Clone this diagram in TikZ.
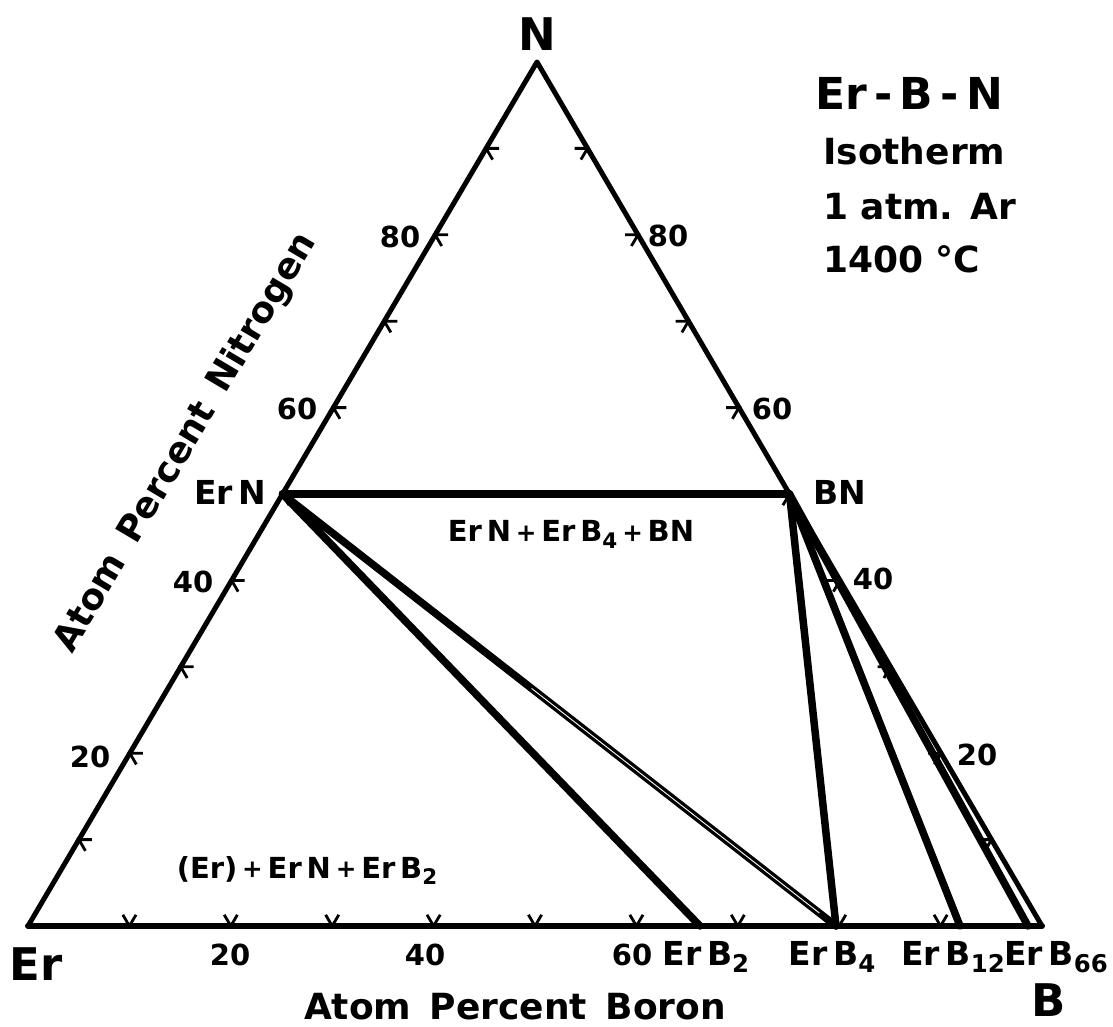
\documentclass[tikz,border=0pt]{standalone}
\usepackage{fontspec}
\setmainfont{DejaVu Sans}
\usetikzlibrary{calc}
\newcommand{\lowr}[1]{\raisebox{-0.42ex}{\scalebox{0.74}{#1}}}
\newcommand{\smplus}{\,\raisebox{0.02ex}{\scalebox{0.85}{+}}\,}
\begin{document}
\begin{tikzpicture}[x=1pt,y=1pt,
  edge/.style={line width=5pt, line join=round, line cap=round},
  baseedge/.style={line width=6pt, line cap=round},
  tie/.style={line width=7.5pt, line cap=round},
  hairline/.style={white, line width=0.9pt},
  tickmark/.style={line width=2.8pt, line join=miter},
  corner/.style={font=\bfseries\fontsize{45}{45}\selectfont, inner sep=0pt, anchor=base},
  num/.style={font=\bfseries\fontsize{29}{29}\selectfont, inner sep=0pt, anchor=base},
  phase/.style={font=\bfseries\fontsize{33}{33}\selectfont, inner sep=0pt, anchor=base},
  field/.style={font=\bfseries\fontsize{29}{29}\selectfont, inner sep=0pt, anchor=base},
  axis/.style={font=\bfseries\fontsize{36}{36}\selectfont, inner sep=0pt},
  info/.style={font=\bfseries\fontsize{36}{36}\selectfont, inner sep=0pt, anchor=base west},
]
\useasboundingbox (0,0) rectangle (1113,1026);

% vertices
\coordinate (Er) at (28,100);
\coordinate (B) at (1042,100);
\coordinate (N) at (537,964);
\coordinate (ErN) at ($(Er)!0.5!(N)$);
\coordinate (BN) at ($(B)!0.5!(N)$);
\coordinate (ErB2) at (700,100);
\coordinate (ErB4) at (836,100);
\coordinate (ErB12) at (960,100);
\coordinate (ErB66) at (1028,100);

% triangle
\draw[edge] (Er) -- (N) -- (B);
\draw[baseedge] (Er) -- (B);

% ticks
\foreach \k in {1,...,9}{
  \coordinate (tl\k) at ($(Er)!\k/10!(N)$);
  \coordinate (tr\k) at ($(B)!\k/10!(N)$);
  \coordinate (tb\k) at ($(Er)!\k/10!(B)$);
  \draw[tickmark] ($(tl\k)+(13,0)$) -- (tl\k) -- ($(tl\k)+(6.56,-11.22)$);
  \draw[tickmark] ($(tr\k)+(-13,0)$) -- (tr\k) -- ($(tr\k)+(-6.6,-11.2)$);
  \draw[tickmark] ($(tb\k)+(6.6,11.2)$) -- (tb\k) -- ($(tb\k)+(-6.56,11.22)$);
}

% tie lines
\draw[tie] (ErN) -- (BN);
\draw[tie] (ErN) -- (ErB2);
\draw[tie] (ErN) -- (ErB4);
\draw[hairline] ($(ErN)!0.45!(ErB4)$) -- ($(ErN)!0.97!(ErB4)$);
\draw[tie] (BN) -- (ErB4);
\draw[tie] (BN) -- (ErB12);
\draw[tie] (BN) -- (ErB66);

% corner labels
\node[corner] (lN) at (537,975) {N};
\node[corner] (lEr) at (36,46) {Er};
\node[corner] (lB) at (1049,10) {B};

% scale numbers
\node[num] (l80) at (400,778) {80};
\node[num] (l60) at (297,606) {60};
\node[num] (l40) at (193,433) {40};
\node[num] (l20) at (90,259) {20};
\node[num] (r80) at (668,779) {80};
\node[num] (r60) at (772,606) {60};
\node[num] (r40) at (873,436) {40};
\node[num] (r20) at (977,261) {20};
\node[num] (b20) at (230,61) {20};
\node[num] (b40) at (425,61) {40};
\node[num] (b60) at (632,61) {60};

% phase labels
\node[phase] (pErN) at (230,521) {Er\,N};
\node[phase] (pBN) at (840,521) {BN};
\node[phase] (pErB2) at (706,61) {Er\,B\lowr{2}};
\node[phase] (pErB4) at (832,61) {Er\,B\lowr{4}};
\node[phase] (pErB12) at (953,61) {Er\,B\lowr{12}};
\node[phase] (pErB66) at (1056,61) {Er\,B\lowr{66}};

% field labels
\node[field] (f1) at (571,484) {Er\,N\smplus Er\,B\lowr{4}\smplus BN};
\node[field] (f2) at (307,148) {(Er)\smplus Er\,N\smplus Er\,B\lowr{2}};

% axis titles
\node[axis, anchor=base] (ab) at (515,7) {Atom\, Percent\, Boron};
\node[axis, rotate=59.3] (an) at (186,583) {Atom\, Percent\, Nitrogen};

% info block
\node[info, font=\bfseries\fontsize{44}{44}\selectfont] (i1) at (815,916) {Er\,-\,B\,-\,N};
\node[info] (i2) at (823,861) {Isotherm};
\node[info] (i3) at (823,806) {1 atm. Ar};
\node[info] (i4) at (823,753) {1400 °C};
\end{tikzpicture}
\end{document}
